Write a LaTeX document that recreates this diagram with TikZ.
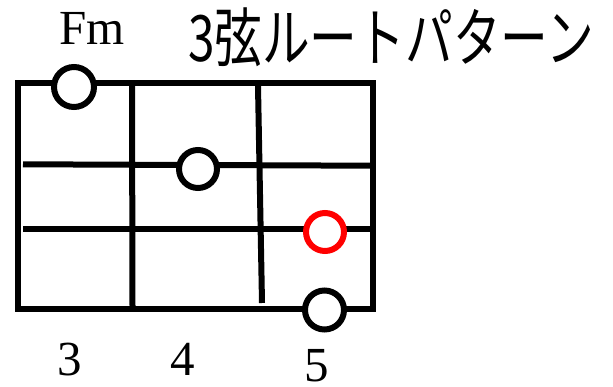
\documentclass[tikz,border=0pt]{standalone}
\usepackage{fontspec}
\setmainfont{Liberation Serif}
\newfontfamily\cjk{Noto Sans CJK JP}
\begin{document}
\begin{tikzpicture}[x=1pt,y=-1pt,
  gridline/.style={line width=6pt, black},
  dotmark/.style={circle, draw=black, fill=white, line width=6pt, minimum size=38pt, inner sep=0pt},
  rootmark/.style={dotmark, draw=red},
  label/.style={font=\fontsize{49}{49}\selectfont, anchor=base, inner sep=0pt},
  title/.style={font=\cjk\fontsize{64}{64}\selectfont, anchor=base west, inner sep=0pt, xscale=0.745}]
\useasboundingbox (0,0) rectangle (613,387);
% frame
\coordinate (tl) at (18,83.5);
\coordinate (br) at (373,309);
\draw[gridline, line join=miter] (tl) rectangle (br);
% strings
\coordinate (s1a) at (23,164.3);
\coordinate (s1b) at (370,165.7);
\coordinate (s2a) at (23,229.5);
\coordinate (s2b) at (370,229.5);
\draw[gridline] (s1a) -- (s1b);
\draw[gridline] (s2a) -- (s2b);
% frets
\coordinate (f1a) at (132,86);
\coordinate (f1b) at (132.5,306);
\coordinate (f2a) at (258,86);
\coordinate (f2b) at (262,303);
\draw[gridline] (f1a) -- (f1b);
\draw[gridline] (f2a) -- (f2b);
% marks
\node[dotmark, minimum size=40pt] (m1) at (74,87) {};
\node[dotmark] (m2) at (198,169) {};
\node[rootmark] (m3) at (325,232) {};
\node[dotmark, minimum size=39pt] (m4) at (324.5,310) {};
% texts
\node[label] (fm) at (92,45) {Fm};
\node[title] (ttl) at (188,62) {3弦ルートパターン};
\node[label] (n3) at (69.5,375) {3};
\node[label] (n4) at (183,375) {4};
\node[label] (n5) at (317,381) {5};
\end{tikzpicture}
\end{document}
